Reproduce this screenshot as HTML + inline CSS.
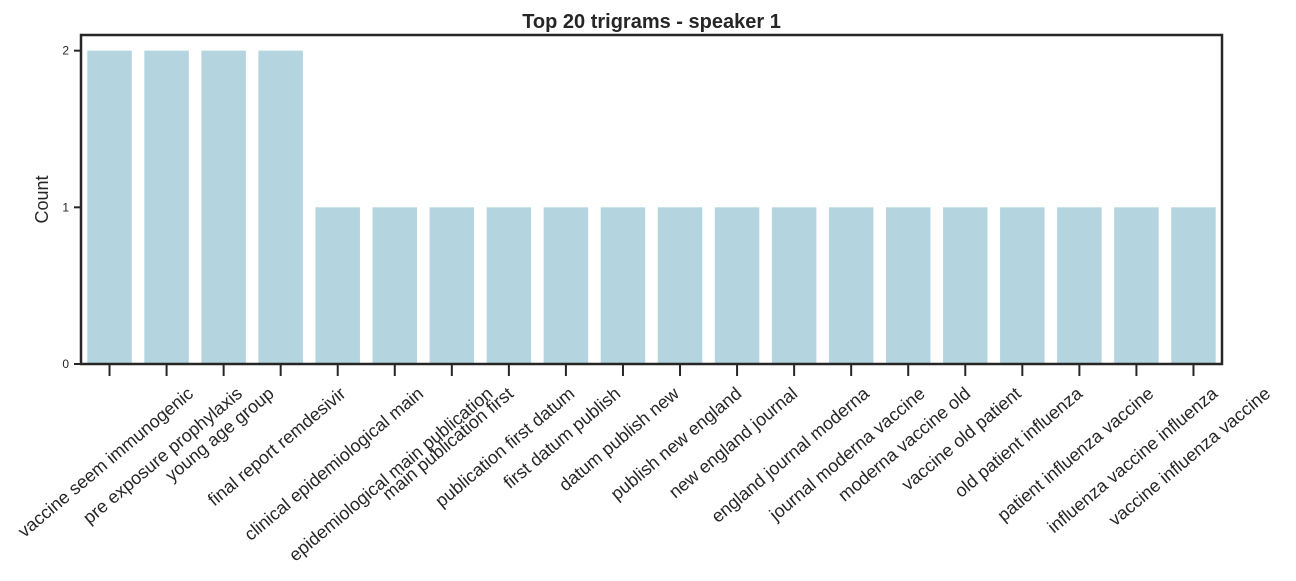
<!DOCTYPE html>
<html><head><meta charset="utf-8"><style>
body{margin:0;background:#fff;}
svg{font-family:"Liberation Sans",Arial,sans-serif;}
</style></head><body>
<svg id="c" width="1296" height="576"></svg>
<script>
const categories=["vaccine seem immunogenic","pre exposure prophylaxis","young age group","final report remdesivir","clinical epidemiological main","epidemiological main publication","main publication first","publication first datum","first datum publish","datum publish new","publish new england","new england journal","england journal moderna","journal moderna vaccine","moderna vaccine old","vaccine old patient","old patient influenza","patient influenza vaccine","influenza vaccine influenza","vaccine influenza vaccine"];
const counts=[2,2,2,2,1,1,1,1,1,1,1,1,1,1,1,1,1,1,1,1];
const yTicks=[0,1,2];
const NS="http://www.w3.org/2000/svg";
const svg=document.getElementById('c');
const L=81,R=1222,T=35,B=364,yMax=2.1;
const step=(R-L)/categories.length;
const x=i=>L+step*(i+0.5);
const y=v=>B-(v/yMax)*(B-T);
function mk(t,a,p){const e=document.createElementNS(NS,t);for(const k in a)e.setAttribute(k,a[k]);(p||svg).appendChild(e);return e;}
const title=mk('text',{x:(L+R)/2,y:28,'text-anchor':'middle','font-size':20,'font-weight':'bold',fill:'#262626'});
title.textContent='Top 20 trigrams - speaker 1';


counts.forEach((v,i)=>{
  const r=mk('rect',{x:x(i)-step*0.39,y:y(v),width:step*0.78,height:B-y(v),fill:'#b4d5e0'});
  
  
});
yTicks.forEach(t=>{
  const l=mk('line',{x1:L-7,x2:L,y1:y(t),y2:y(t),stroke:'#262626','stroke-width':2});
  
  
  const tx=mk('text',{x:L-12,y:y(t)+4,'text-anchor':'end','font-size':12,fill:'#262626'});
  tx.textContent=t;
  
  
});
const yt=mk('text',{transform:'translate(48,'+((T+B)/2)+') rotate(-90)','text-anchor':'middle','font-size':18,fill:'#262626'});
yt.textContent='Count';


const a=40*Math.PI/180;
categories.forEach((c,i)=>{
  const l=mk('line',{x1:x(i),x2:x(i),y1:B,y2:B+12,stroke:'#262626','stroke-width':2});
  
  
  const tx=mk('text',{'text-anchor':'middle','font-size':18,fill:'#262626'});
  tx.textContent=c;
  
  
  const w=tx.getComputedTextLength(),h=18;
  const bh=w*Math.sin(a)+h*Math.cos(a);
  const cy=B+20+bh/2;
  tx.setAttribute('transform','translate('+(x(i)-4)+','+cy+') rotate(-40) translate(0,6)');
});
const f=mk('rect',{x:L,y:T,width:R-L,height:B-T,fill:'none',stroke:'#262626','stroke-width':2.5});


</script>
</body></html>
